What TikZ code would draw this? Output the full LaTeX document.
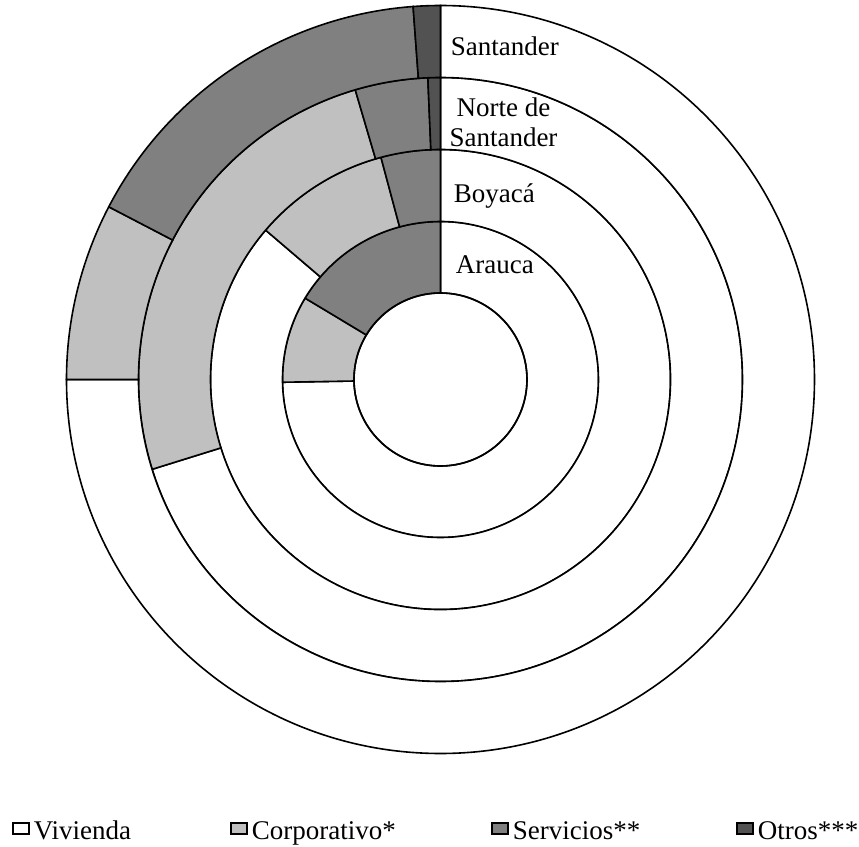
\documentclass[tikz,border=0pt]{standalone}
\usepackage{fontspec}
\setmainfont{Liberation Serif}
\usetikzlibrary{calc}
\definecolor{corpgray}{RGB}{192,192,192}
\definecolor{servgray}{RGB}{128,128,128}
\definecolor{otrosgray}{RGB}{82,82,82}
\newcommand{\ringPart}[5]{%
    \filldraw[fill=#5] (#3:#1) arc (#3:#4:#1) -- (#4:#2) arc (#4:#3:#2) -- cycle;
}
\tikzset{
    label/.style={anchor=base west, inner sep=0pt, font=\fontsize{13.5}{15.5}\selectfont},
    keybox/.style={draw, line width=0.6pt}
}

\begin{document}
\begin{tikzpicture}[x=0.5pt, y=0.5pt, line width=0.8pt]
            \useasboundingbox (-440.5,-467.5) rectangle (418.5,379.5);
            \coordinate (O) at (0,0);
            % Arauca
            \ringPart{86.5}{158}{181}{450}{white}
            \ringPart{86.5}{158}{149}{181}{corpgray}
            \ringPart{86.5}{158}{90}{149}{servgray}
            % Boyaca
            \ringPart{158}{230}{139.5}{450}{white}
            \ringPart{158}{230}{105}{139.5}{corpgray}
            \ringPart{158}{230}{90}{105}{servgray}
            % Norte de Santander
            \ringPart{230}{302}{197.3}{450}{white}
            \ringPart{230}{302}{106.4}{197.3}{corpgray}
            \ringPart{230}{302}{92.4}{106.4}{servgray}
            \ringPart{230}{302}{90}{92.4}{otrosgray}
            % Santander
            \ringPart{302}{374}{180}{450}{white}
            \ringPart{302}{374}{152.5}{180}{corpgray}
            \ringPart{302}{374}{94.2}{152.5}{servgray}
            \ringPart{302}{374}{90}{94.2}{otrosgray}
            \draw (O) circle (86.5);

            \node[label] (santander) at (9.5,323.5) {Santander};
            \node[label, anchor=base, align=center] (norte) at (63,232.8) {Norte de\\[-0.6pt]Santander};
            \node[label] (boyaca) at (12.5,176.8) {Boyacá};
            \node[label] (arauca) at (14.5,105.5) {Arauca};

            % legend
            \draw[keybox, fill=white] (-427.5,-443.5) rectangle +(16,-11);
            \node[label] (vivienda) at (-407.5,-460) {Vivienda};
            \draw[keybox, fill=corpgray] (-209.5,-443.5) rectangle +(16,-11);
            \node[label] (corporativo) at (-189.5,-460) {Corporativo*};
            \draw[keybox, fill=servgray] (51.5,-443.5) rectangle +(16,-11);
            \node[label] (servicios) at (71.5,-460) {Servicios**};
            \draw[keybox, fill=otrosgray] (296.5,-443.5) rectangle +(16,-11);
            \node[label] (otros) at (316.5,-460) {Otros***};
        \end{tikzpicture}
\end{document}
